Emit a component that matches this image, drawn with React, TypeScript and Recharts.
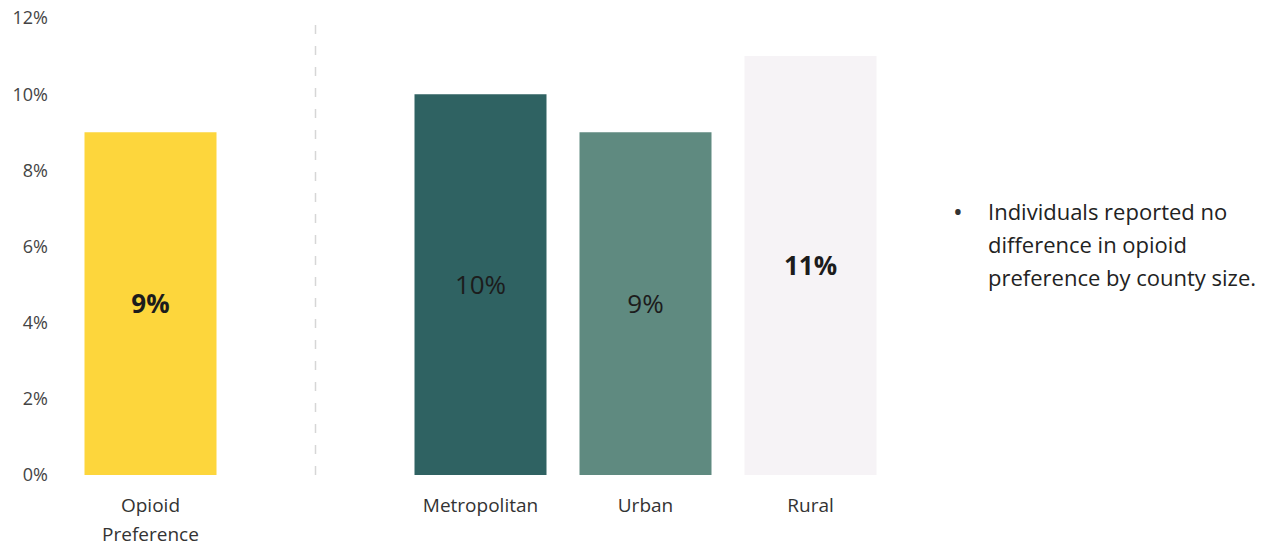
import { BarChart, Bar, XAxis, YAxis, Cell, LabelList, ReferenceLine } from 'recharts'

// categories; 'gap' is an empty slot that holds the dashed separator
const categories = ['Opioid Preference', 'gap', 'Metropolitan', 'Urban', 'Rural']
const tickLines = [['Opioid', 'Preference'], [], ['Metropolitan'], ['Urban'], ['Rural']]
const shares = [9, null, 10, 9, 11]
const barColors = ['#fdd63c', '#ffffff', '#2f6262', '#5f8a80', '#f6f3f6']
const boldLabel = [true, false, false, false, true]
const yTicks = [0, 2, 4, 6, 8, 10, 12]
const note = ['Individuals reported no', 'difference in opioid', 'preference by county size.']

const font = '"Open Sans", sans-serif'

const chartData = categories.map((name, i) => ({ name, value: shares[i] }))

function CategoryTick(props: any) {
  const { x, y, index } = props
  const lines = tickLines[index] || []
  return (
    <text x={x} y={y} textAnchor="middle" fill="#333" fontSize={19} fontFamily={font}>
      {lines.map((line, i) => (
        <tspan key={i} x={x} y={y + 37 + i * 29}>
          {line}
        </tspan>
      ))}
    </text>
  )
}

// label content gets the category name, so look the value and style up by it
function ValueLabel(props: any) {
  const { x, y, width, height, value } = props
  const i = categories.indexOf(value)
  if (i < 0 || shares[i] == null) return null
  return (
    <text
      x={x + width / 2}
      y={y + height / 2}
      dy="0.35em"
      textAnchor="middle"
      fill="#1c1c1c"
      fontSize={26}
      fontWeight={boldLabel[i] ? 700 : 400}
      fontFamily={font}
    >
      {shares[i]}%
    </text>
  )
}

export default function App() {
  return (
    <div style={{ position: 'absolute', left: 0, top: 0, width: 1286, height: 548, background: '#fff' }}>
      <BarChart
        width={1286}
        height={548}
        data={chartData}
        margin={{ top: 18, right: 393, bottom: 0, left: 0 }}
        barCategoryGap="10%"
      >
        <XAxis
          dataKey="name"
          height={73}
          axisLine={false}
          tickLine={false}
          tickSize={0}
          tickMargin={0}
          interval={0}
          tick={<CategoryTick />}
        />
        <YAxis
          width={68}
          domain={[0, 12]}
          ticks={yTicks}
          axisLine={false}
          tickLine={false}
          tickSize={0}
          tickMargin={20}
          tickFormatter={(v) => `${v}%`}
          tick={{ fill: '#444', fontSize: 18, fontFamily: font }}
        />
        <ReferenceLine x="gap" stroke="#d6d6d6" strokeDasharray="9 12" strokeWidth={1.5} />
        <Bar dataKey="value" isAnimationActive={false}>
          {chartData.map((d, i) => (
            <Cell key={d.name} fill={barColors[i]} />
          ))}
          <LabelList dataKey="name" content={<ValueLabel />} />
        </Bar>
      </BarChart>
      <div
        style={{
          position: 'absolute',
          left: 950,
          top: 195,
          fontFamily: font,
          fontSize: 22,
          lineHeight: '33px',
          color: '#222',
        }}
      >
        <span style={{ position: 'absolute', left: 3, top: 0, fontSize: 26, color: '#333' }}>•</span>
        <div style={{ marginLeft: 38 }}>
          {note.map((line) => (
            <div key={line} style={{ whiteSpace: 'nowrap' }}>
              {line}
            </div>
          ))}
        </div>
      </div>
    </div>
  )
}
